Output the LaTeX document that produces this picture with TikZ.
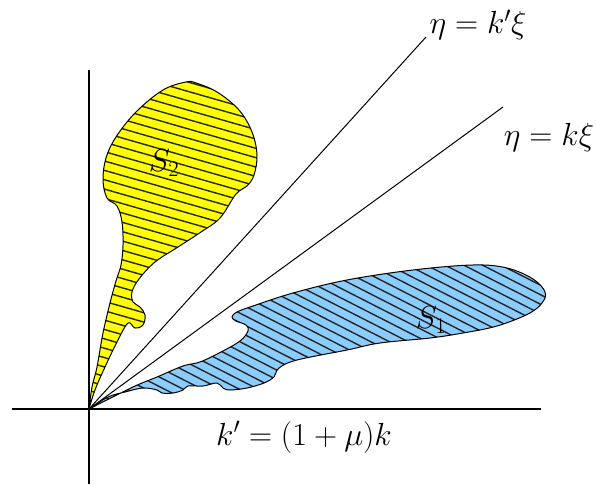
\RequirePackage{fix-cm}
\documentclass[tikz,border=0pt]{standalone}
\usepackage{tikz}
\definecolor{regyellow}{RGB}{255,255,0}
\definecolor{regblue}{RGB}{140,205,255}
\begin{document}
\begin{tikzpicture}[x=1pt,y=-1pt,
  axis/.style={line width=1.2pt,black},
  ray/.style={line width=1pt,black},
  outline/.style={line width=1pt,black},
  hatch/.style={line width=1.4pt,black!85},
  lbl/.style={font=\fontsize{32}{38}\selectfont,inner sep=0pt}]
\useasboundingbox (0,0) rectangle (596,484);
\coordinate (O) at (89,409);
\coordinate (Ytop) at (89,70);
\coordinate (Ybot) at (89,484);
\coordinate (Xl) at (12,409);
\coordinate (Xr) at (541,409);
\coordinate (R1) at (426,37);
\coordinate (R2) at (503,107);
% S2 region
\def\pathSii{plot[smooth,tension=0.6] coordinates {(89,409) (92,387) (97,367) (103,333) (110,303) (116,281) (121,265) (123,245) (122,222) (117,206) (107,198) (103,180) (106,158) (116,137) (136,112) (163,90) (186,82) (196,83) (217,92) (239,110) (252,132) (257,155) (254,175) (247,186) (236,194) (220,218) (201,232) (178,247) (155,262) (139,279) (132,292) (133,302) (140,307) (145,315) (143,325) (135,328) (128,323) (118,340) (105,367) (95,390) (89,409)} -- cycle}
\fill[regyellow] \pathSii;
\begin{scope}
\clip \pathSii;
\foreach \k in {0,...,42}{
  \draw[hatch] (80,{\k*9.36+0.287*80}) -- (270,{\k*9.36+0.287*270});
}
\end{scope}
\draw[outline] \pathSii;
% S1 region
\def\pathSi{plot[smooth,tension=0.6] coordinates {(89,409) (108,397) (125,392) (143,388) (157,390) (162,393) (173,393) (183,390) (188,386) (203,386) (217,383) (223,388) (230,390) (247,388) (264,383) (274,377) (279,368) (297,360) (347,350) (380,343) (430,338) (463,333) (497,326) (528,314) (542,303) (545,292) (533,279) (507,268) (473,265) (413,270) (347,280) (293,293) (253,306) (237,312) (232,317) (236,321) (246,325) (248,331) (240,341) (221,352) (200,362) (183,366) (157,377) (133,387) (89,409)} -- cycle}
\fill[regblue] \pathSi;
\begin{scope}
\clip \pathSi;
\foreach \k in {-3,...,40}{
  \draw[hatch] (80,{\k*9.54+0.51*80}) -- (560,{\k*9.54+0.51*560});
}
\end{scope}
\draw[outline] \pathSi;
% axes and rays
\draw[axis] (Ytop) -- (Ybot);
\draw[axis] (Xl) -- (Xr);
\draw[ray] (O) -- (R1);
\draw[ray] (O) -- (R2);
% labels
\node[lbl] (l1) at (478,25) {$\eta=k'\xi$};
\node[lbl] (l2) at (549,137) {$\eta=k\xi$};
\node[lbl] (l3) at (304,437) {$k'=(1+\mu)k$};
\node[lbl] (s2) at (164,163) {$S_2$};
\node[lbl] (s1) at (431,320) {$S_1$};
\end{tikzpicture}
\end{document}
